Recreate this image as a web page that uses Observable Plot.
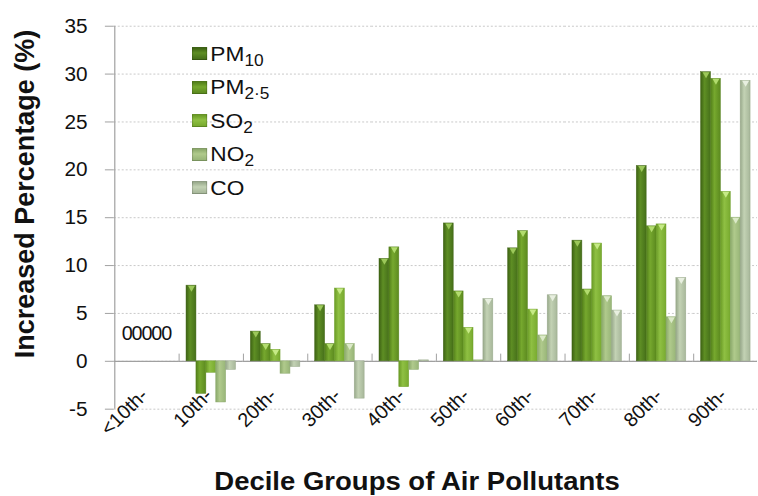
<!DOCTYPE html>
<html>
<head>
<meta charset="utf-8">
<script src="https://cdn.jsdelivr.net/npm/d3@7"></script>
<script src="https://cdn.jsdelivr.net/npm/@observablehq/plot@0.6"></script>
<style>
  html, body { margin: 0; padding: 0; background: #fff; overflow: hidden; }
  body { width: 758px; height: 496px; position: relative; font-family: "Liberation Sans", Arial, sans-serif; }
  #chart { position: absolute; left: 0; top: 0; }
  .ytitle { position: absolute; left: 25px; top: 194px; transform: translate(-50%, -50%) rotate(-90deg);
            font-weight: bold; font-size: 27px; white-space: nowrap; color: #111; }
  .xtitle { position: absolute; left: 417px; top: 481px; transform: translate(-50%, -50%) scaleX(1.1);
            font-weight: bold; font-size: 25px; white-space: nowrap; color: #111; }
  .legend { position: absolute; left: 192px; top: 37px; font-size: 21px; color: #111; transform: scaleX(1.08); transform-origin: left top; }
  .legend .row { height: 33.5px; display: flex; align-items: center; }
  .legend .sw { width: 14px; height: 13px; margin-right: 3px; border: 1px solid rgba(0,0,0,0.15); box-sizing: border-box; }
  .legend sub { font-size: 16px; vertical-align: -5px; line-height: 0; }
</style>
</head>
<body>
<div id="chart"></div>
<div class="ytitle">Increased Percentage (%)</div>
<div class="xtitle">Decile Groups of Air Pollutants</div>
<div class="legend" id="legend"></div>
<script>
// ---- data ----
const groups = ["<10th-", "10th-", "20th-", "30th-", "40th-", "50th-", "60th-", "70th-", "80th-", "90th-"];
const series = ["PM10", "PM2.5", "SO2", "NO2", "CO"];
const pm10 = [0, 7.9, 3.1, 5.85, 10.7, 14.4, 11.8, 12.6, 20.4, 30.2];
const pm25 = [0, -3.4, 1.8, 1.8, 11.9, 7.3, 13.6, 7.5, 14.1, 29.5];
const so2  = [0, -1.2, 1.2, 7.6, -2.7, 3.5, 5.4, 12.3, 14.3, 17.7];
const no2  = [0, -4.3, -1.3, 1.8, -0.9, 0.1, 2.7, 6.8, 4.6, 15.0];
const co   = [0, -0.9, -0.6, -3.9, 0.1, 6.5, 6.9, 5.3, 8.7, 29.3];
const yTicks = [-5, 0, 5, 10, 15, 20, 25, 30, 35];
const legendLabels = ["PM<sub>10</sub>", "PM<sub>2·5</sub>", "SO<sub>2</sub>", "NO<sub>2</sub>", "CO"];

// ---- styles ----
const colors = {
  "PM10":  ["#3d6213", "#5e8e24", "#46701a", "#9cc85a"],
  "PM2.5": ["#527f1a", "#76a82e", "#5c8a1f", "#b2dc6e"],
  "SO2":   ["#6a9b26", "#8fc043", "#78aa2f", "#c6ea86"],
  "NO2":   ["#8aa86a", "#b0ca8c", "#98b578", "#dbe9c8"],
  "CO":    ["#97a88a", "#c3d2b4", "#a7b79a", "#e8efe0"]
};
const gid = s => "grad" + series.indexOf(s);

const valuesBySeries = [pm10, pm25, so2, no2, co];
const table = [];
groups.forEach((g, gi) => series.forEach((s, si) => table.push({group: g, series: s, value: valuesBySeries[si][gi]})));

function defs() {
  const d = d3.create("svg:defs");
  series.forEach(s => {
    const c = colors[s];
    const lg = d.append("linearGradient").attr("id", gid(s)).attr("x1", "0").attr("x2", "1").attr("y1", "0").attr("y2", "0");
    lg.append("stop").attr("offset", "0%").attr("stop-color", c[0]);
    lg.append("stop").attr("offset", "40%").attr("stop-color", c[1]);
    lg.append("stop").attr("offset", "100%").attr("stop-color", c[2]);
  });
  return d.node();
}

const marks = [
  defs,
  Plot.gridY(yTicks, {stroke: "#c8c8c8", strokeOpacity: 1, strokeDasharray: "2,2"}),
  Plot.ruleY([0], {stroke: "#a0a0a0", strokeWidth: 1.2}),
  ...series.map(s => Plot.barY(table.filter(d => d.series === s), {
    fx: "group", x: "series", y: "value",
    fill: `url(#${gid(s)})`, stroke: colors[s][0], strokeWidth: 0.6, strokeOpacity: 0.8
  })),
  // light bevel triangles on bar tops
  ...series.map(s => Plot.dot(table.filter(d => d.series === s && d.value > 0.5), {
    fx: "group", x: "series", y: "value", symbol: "triangle", rotate: 180, r: 2.6, dy: 2,
    fill: colors[s][3], stroke: "none"
  })),
  Plot.text(table.filter(d => d.group === groups[0]), {
    fx: "group", x: "series", y: "value", text: d => String(d.value),
    dy: -28, fontSize: 20, fill: "#111"
  }),
  // group separator ticks on the zero line
  Plot.ruleX(groups.slice(1), {fx: d => d, x: () => series[0], y1: 0, y2: 0.75, dx: -12.5, stroke: "#a0a0a0"}),
  // y axis line
  Plot.ruleX([groups[0]], {fx: d => d, x: () => series[0], y1: -5, y2: 35, dx: -12.5, stroke: "#a0a0a0", strokeWidth: 1.2}),
  Plot.axisY(yTicks, {tickSize: 9, tickPadding: 18, fontSize: 21, stroke: "#a0a0a0", fill: "#111", label: null, tickFormat: d => String(d)}),
  // category labels, rotated, hanging just under the zero line
  Plot.text(groups, {fx: d => d, y: () => 0, text: d => d, rotate: -45, textAnchor: "end",
    dx: -2, dy: 31, fontSize: 20, fill: "#111"})
];

const chart = Plot.plot({
  width: 766,
  height: 496,
  marginLeft: 115,
  marginRight: 1,
  marginTop: 26,
  marginBottom: 83,
  style: {fontFamily: "'Liberation Sans', Arial, sans-serif", overflow: "visible"},
  fx: {domain: groups, padding: 0, label: null, axis: null},
  x: {domain: series, paddingInner: 0, paddingOuter: 0.75, axis: null},
  y: {domain: [-5, 35], axis: null},
  marks
});
document.getElementById("chart").appendChild(chart);

// legend (HTML text with subscripts)
const leg = document.getElementById("legend");
series.forEach((s, i) => {
  const c = colors[s];
  const row = document.createElement("div");
  row.className = "row";
  row.innerHTML = `<span class="sw" style="background: linear-gradient(180deg, ${c[0]} 0%, ${c[1]} 45%, ${c[2]} 100%)"></span><span>${legendLabels[i]}</span>`;
  leg.appendChild(row);
});
</script>
</body>
</html>
